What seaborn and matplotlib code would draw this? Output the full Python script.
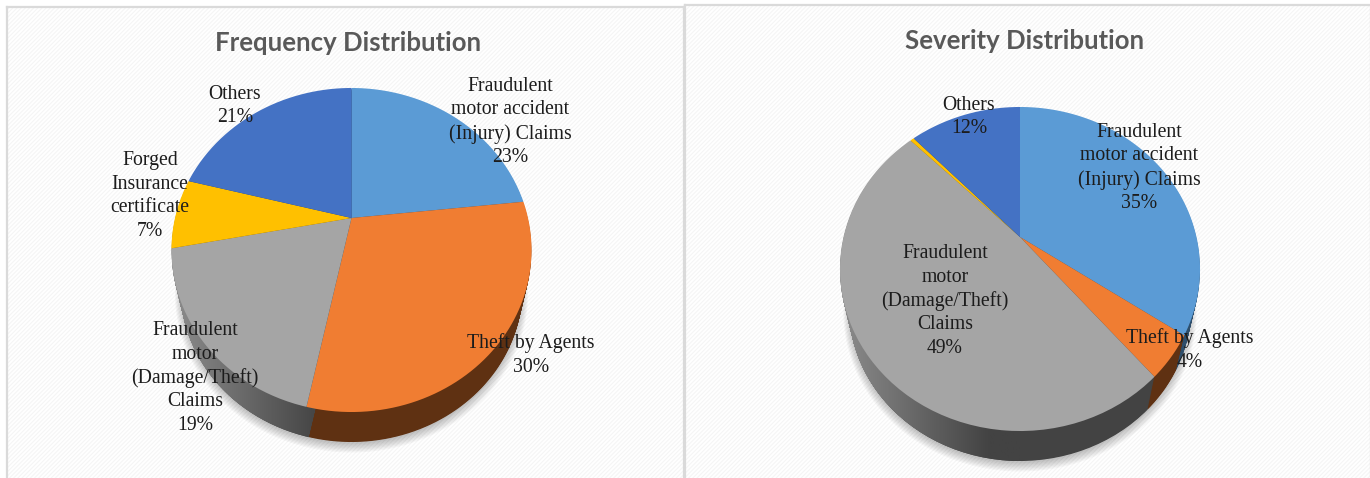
import numpy as np
import seaborn as sns
import matplotlib
matplotlib.use('Agg')
import matplotlib.pyplot as plt
from matplotlib.path import Path
from matplotlib.transforms import Affine2D, Transform
from matplotlib.colors import LinearSegmentedColormap

categories = ['Fraudulent\nmotor accident\n(Injury) Claims', 'Theft by Agents',
              'Fraudulent\nmotor\n(Damage/Theft)\nClaims', 'Forged\nInsurance\ncertificate', 'Others']
freq_values = [23.3, 30, 18.7, 7, 21]
freq_labels = ['23%', '30%', '19%', '7%', '21%']
sev_values = [34.5, 4.3, 48.7, 0.4, 12.1]
sev_labels = ['35%', '4%', '49%', None, '12%']

palette = sns.color_palette(['#5B9BD5', '#F07D32', '#A5A5A5', '#FFC000', '#4472C4'])
side_palette = sns.color_palette(['#2E4E6B', '#5F3112', '#434343', '#806000', '#223A62'])

W, H = 1370, 478
DEPTH = 30
LAYERS = 40
SHRINK = 0.05
TILT = 0.1975
RX, RY = 176.5, 155.7


class Tilt(Transform):
    """projects the flat unit pie so it looks tipped back"""
    input_dims = 2
    output_dims = 2

    def transform_non_affine(self, xy):
        xy = np.asarray(xy, dtype=float)
        w = 1 + TILT * xy[:, 1]
        return np.column_stack([RX * xy[:, 0] / w, -RY * xy[:, 1] / w])

    def transform_path_non_affine(self, path):
        # flatten the curves at a big scale or they come out coarse
        polys = path.transformed(Affine2D().scale(500)).to_polygons(closed_only=True)
        return Path(self.transform_non_affine(np.vstack(polys) / 500), closed=True)


def draw_panel(ax, box, values, labels, title, title_xy, center, label_xy):
    cx, cy = center
    tilt = Tilt()

    def layer(t):
        # t=0 is the top face, t=1 the base, which is a bit smaller
        s = 1 - SHRINK * t
        return tilt + Affine2D().scale(s).translate(cx, cy + t * (DEPTH + 194 * SHRINK))

    def place(patch, t, zorder):
        patch.set_transform(layer(t) + ax.transData)
        patch.set_zorder(zorder)

    # soft shadow under the pie
    for i in range(7):
        shadow, _ = ax.pie([1], radius=1.035 - i * 0.006, colors=['black'], startangle=90)
        shadow[0].set_alpha(0.035)
        place(shadow[0], 1.08, 1 + i * 0.01)

    # side wall, stacked from the bottom up
    grey_paths = []
    for n in range(LAYERS, 0, -1):
        t = n / LAYERS
        wedges, _ = ax.pie(values, colors=side_palette, startangle=90, counterclock=False)
        for w in wedges:
            w.set_linewidth(0)
            place(w, t, 2 + (LAYERS - n) * 0.01)
        grey_paths.append(layer(t).transform_path(wedges[2].get_path()))

    # top face
    wedges, _ = ax.pie(values, colors=palette, startangle=90, counterclock=False)
    for w in wedges:
        w.set_linewidth(0)
        place(w, 0, 5)

    # lighter grey on the left of the wall
    cmap = LinearSegmentedColormap.from_list('wall', ['#8C8C8C', '#434343'])
    grad = np.clip(np.linspace(0, 1.2, 256), 0, 1).reshape(1, -1)
    im = ax.imshow(grad, cmap=cmap, vmin=0, vmax=1, aspect='auto', zorder=3,
                   extent=(cx - 180, cx, cy + 250, cy - 150), interpolation='bilinear')
    im.set_clip_path(Path.make_compound_path(*grey_paths), ax.transData)

    ax.set_aspect('auto')
    ax.set_xlim(box[0], box[1])
    ax.set_ylim(box[3], box[2])
    ax.set_xticks([])
    ax.set_yticks([])
    ax.set_frame_on(True)
    ax.patch.set_facecolor('white')
    ax.patch.set_edgecolor('#F5F5F5')
    ax.patch.set_hatch('////////')
    for name, sp in ax.spines.items():
        sp.set_color('#DADADA')
        sp.set_linewidth(1.6)
    ax.spines['bottom'].set_visible(False)

    ax.text(title_xy[0], title_xy[1], title, ha='center', va='center', fontsize=18.5,
            fontweight='bold', family='Lato', color='#595959', zorder=10)
    for cat, lab, xy in zip(categories, labels, label_xy):
        if lab is None:
            continue
        ax.text(xy[0], xy[1], cat + '\n' + lab, ha='center', va='center', fontsize=14.2,
                family='Liberation Serif', color='#1C1C1C', linespacing=1.31, zorder=10)


sns.set_theme(style='white')
plt.rcParams['hatch.linewidth'] = 0.8

fig = plt.figure(figsize=(W / 100, H / 100), dpi=100, facecolor='white')

box1 = (7, 684, 7, 478)
box2 = (685, 1371, 5, 478)
ax1 = fig.add_axes([box1[0] / W, 1 - box1[3] / H, (box1[1] - box1[0]) / W, (box1[3] - box1[2]) / H])
ax2 = fig.add_axes([box2[0] / W, 1 - box2[3] / H, (box2[1] - box2[0]) / W, (box2[3] - box2[2]) / H])

draw_panel(ax1, box1, freq_values, freq_labels, 'Frequency Distribution', (348, 43), (351.5, 218),
           [(510, 122), (531, 355), (195, 378), (150, 196), (235, 106)])
draw_panel(ax2, box2, sev_values, sev_labels, 'Severity Distribution', (1025, 41), (1020, 237),
           [(1139, 168), (1190, 350), (945, 301), None, (969, 117)])

fig.savefig('out.png', dpi=100)
plt.close('all')
